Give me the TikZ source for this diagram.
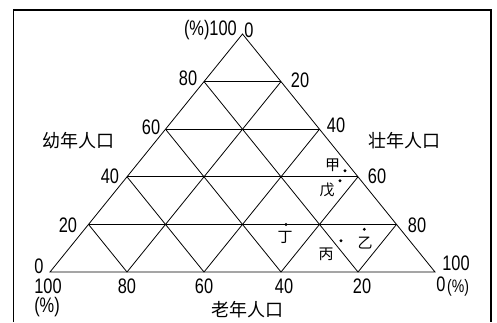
\documentclass[tikz,border=0pt]{standalone}
\usepackage{fontspec}
\setmainfont{Liberation Sans}[FakeStretch=0.78]
\newfontfamily\cjk{Noto Sans CJK SC}
\tikzset{
	num/.style={inner sep=0pt, font=\fontsize{21}{21}\selectfont},
	axtitle/.style={inner sep=0pt, font=\cjk\fontsize{18}{18}\selectfont},
	ptlabel/.style={inner sep=0pt, font=\cjk\fontsize{15}{15}\selectfont},
	grid/.style={line width=0.8pt},
}

\begin{document}
\begin{tikzpicture}[x=1pt, y=-1pt]
		\useasboundingbox (0,0) rectangle (497,322);
		%%%%% START %%%%%
		\draw[line width=1.3pt] (13.5,322) -- (13.5,10) -- (491,10) -- (491,322);
		
		\draw[grid] (242.5,34) -- (50,272) -- (435,272) -- cycle;
		
		\draw[grid] (88.5,224.4) -- (396.5,224.4);
		\draw[grid] (127,176.8) -- (358,176.8);
		\draw[grid] (165.5,129.2) -- (319.5,129.2);
		\draw[grid] (204,81.6) -- (281,81.6);
		
		\draw[grid] (127,272) -- (281,81.6);
		\draw[grid] (204,272) -- (319.5,129.2);
		\draw[grid] (281,272) -- (358,176.8);
		\draw[grid] (358,272) -- (396.5,224.4);
		
		\draw[grid] (358,272) -- (204,81.6);
		\draw[grid] (281,272) -- (165.5,129.2);
		\draw[grid] (204,272) -- (127,176.8);
		\draw[grid] (127,272) -- (88.5,224.4);
		
		\fill (345,170.7) circle (1.6pt);
		\fill (340,180.7) circle (1.6pt);
		\fill (286,224.4) circle (1.6pt);
		\fill (341,240.7) circle (1.6pt);
		\fill (364.3,229.3) circle (1.6pt);
		
		\node[ptlabel] (jia) at (332.5,165) {甲};
		\node[ptlabel] (wu) at (327,190) {戊};
		\node[ptlabel] (ding) at (285,237) {丁};
		\node[ptlabel] (bing) at (326,254) {丙};
		\node[ptlabel] (yi) at (365,243) {乙};
		
		\node[num, anchor=east] (y100) at (237,30) {(\%)100};
		\node[num] (a0) at (249,30) {0};
		\node[num] (y80) at (188,78) {80};
		\node[num] (y60) at (151,127) {60};
		\node[num] (y40) at (110,176.5) {40};
		\node[num] (y20) at (68,225) {20};
		\node[num] (y0) at (39,266) {0};
		
		\node[num] (a20) at (300,80) {20};
		\node[num] (a40) at (336,125) {40};
		\node[num] (a60) at (377,176) {60};
		\node[num] (a80) at (417,225) {80};
		\node[num] (a100) at (456,263) {100};
		\node[num] (o0) at (441,284) {0};
		\node[num, anchor=west, font=\fontsize{18}{18}\selectfont] (opct) at (447,288) {(\%)};
		
		\node[num] (o100) at (48,286) {100};
		\node[num] (lpct) at (47,307) {(\%)};
		\node[num] (o80) at (127,286) {80};
		\node[num] (o60) at (204,286) {60};
		\node[num] (o40) at (284,286) {40};
		\node[num] (o20) at (362,286) {20};
		
		\node[axtitle] (young) at (78,141) {幼年人口};
		\node[axtitle] (adult) at (404,141) {壮年人口};
		\node[axtitle] (old) at (247,310) {老年人口};
		%%%%% END %%%%%
	\end{tikzpicture}
\end{document}
